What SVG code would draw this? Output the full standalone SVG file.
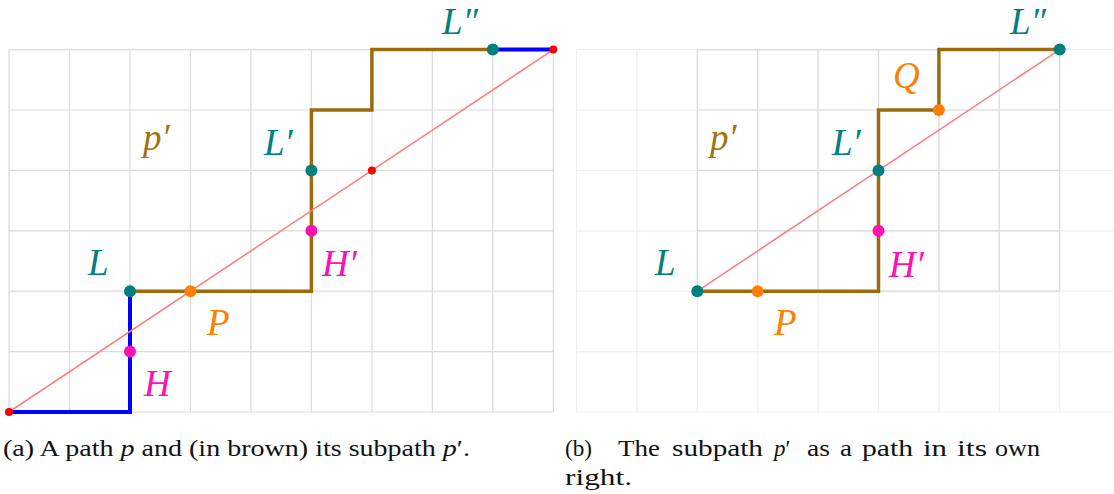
<svg xmlns="http://www.w3.org/2000/svg" width="1114" height="494" viewBox="0 0 1114 494">
<style>
.g{stroke:#dcdcdc;stroke-width:1.2;fill:none}
.gf{stroke:#efefef;stroke-width:1.2;fill:none}
.br{stroke:#9c6b0e;stroke-width:3.5;fill:none;stroke-linejoin:miter}
.bl{stroke:#0000ff;stroke-width:4;fill:none;stroke-linejoin:miter}
.rl{stroke:#ff8080;stroke-width:1.6;fill:none}
.teal{fill:#007f7f}
.mag{fill:#ff10b0}
.org{fill:#ff8000}
.red{fill:#ff0000}
.lab{font-style:italic;font-size:37px}
.cap{font-size:23px;fill:#111}
.pbrown{fill:#a36f10}
</style>
<rect width="1114" height="494" fill="#ffffff"/>
<g id="grid-left">
<path class="g" d="M9,49.6V412M69.5,49.6V412M130,49.6V412M190.4,49.6V412M250.9,49.6V412M311.4,49.6V412M371.9,49.6V412M432.4,49.6V412M492.8,49.6V412M553.3,49.6V412"/>
<path class="g" d="M9,49.6H553.3M9,110H553.3M9,170.4H553.3M9,230.8H553.3M9,291.2H553.3M9,351.6H553.3M9,412H553.3"/>
</g>
<g id="grid-right">
<path class="gf" d="M576.5,49.6V412M636.9,49.6V412M697.3,49.6V412M757.7,49.6V412M818.1,49.6V412M878.5,49.6V412M938.9,49.6V412M999.3,49.6V412M1059.7,49.6V412"/>
<path class="gf" d="M576.5,49.6H1114M576.5,110H1114M576.5,170.4H1114M576.5,230.8H1114M576.5,291.2H1114M576.5,351.6H1114M576.5,412H1114"/>
<path class="g" d="M697.3,49.6V291.2M757.7,49.6V291.2M818.1,49.6V291.2M878.5,49.6V291.2M938.9,49.6V291.2M999.3,49.6V291.2M1059.7,49.6V291.2"/>
<path class="g" d="M697.3,49.6H1059.7M697.3,110H1059.7M697.3,170.4H1059.7M697.3,230.8H1059.7M697.3,291.2H1059.7"/>
</g>
<g id="connectors">
<path class="bl" d="M9,412H130V291.2"/>
<path class="bl" d="M492.8,49.6H553.3"/>
<path class="br" d="M130,291.2H311.4V110H371.9V49.6H492.8"/>
<path class="rl" d="M9,412L553.3,49.6"/>
<path class="br" d="M697.3,291.2H878.5V110H938.9V49.6H1059.7"/>
<path class="rl" d="M697.3,291.2L1059.7,49.6"/>
</g>
<g font-family="Liberation Serif, DejaVu Serif, serif">
<g id="a-start"><circle class="red" cx="9" cy="412" r="4"/></g>
<g id="a-mid"><circle class="red" cx="371.9" cy="170.4" r="4"/></g>
<g id="a-end"><circle class="red" cx="553.3" cy="49.6" r="4"/></g>
<g id="a-L"><circle class="teal" cx="130" cy="291.2" r="6"/><text class="lab teal" x="88" y="275">L</text></g>
<g id="a-H"><circle class="mag" cx="130" cy="351.6" r="6"/><text class="lab mag" x="144" y="396">H</text></g>
<g id="a-P"><circle class="org" cx="190.4" cy="291.2" r="6"/><text class="lab org" x="207" y="335">P</text></g>
<g id="a-Hp"><circle class="mag" cx="311.4" cy="230.8" r="6"/><text class="lab mag" x="322" y="276">H′</text></g>
<g id="a-Lp"><circle class="teal" cx="311.4" cy="170.4" r="6"/><text class="lab teal" x="264" y="155">L′</text></g>
<g id="a-Lpp"><circle class="teal" cx="492.8" cy="49.6" r="6"/><text class="lab teal" x="442" y="34">L″</text></g>
<g id="a-pp"><text class="lab pbrown" x="143" y="150">p′</text></g>
<g id="b-L"><circle class="teal" cx="697.3" cy="291.2" r="6"/><text class="lab teal" x="655" y="275">L</text></g>
<g id="b-P"><circle class="org" cx="757.7" cy="291.2" r="6"/><text class="lab org" x="774" y="335">P</text></g>
<g id="b-Hp"><circle class="mag" cx="878.5" cy="230.8" r="6"/><text class="lab mag" x="889" y="277">H′</text></g>
<g id="b-Lp"><circle class="teal" cx="878.5" cy="170.4" r="6"/><text class="lab teal" x="832" y="155">L′</text></g>
<g id="b-Q"><circle class="org" cx="938.9" cy="110" r="6"/><text class="lab org" x="893" y="88">Q</text></g>
<g id="b-Lpp"><circle class="teal" cx="1059.7" cy="49.6" r="6"/><text class="lab teal" x="1010" y="34">L″</text></g>
<g id="b-pp"><text class="lab pbrown" x="710" y="150">p′</text></g>
<g id="captions">
<text class="cap" x="3" y="456" textLength="467" lengthAdjust="spacingAndGlyphs">(a) A path <tspan font-style="italic">p</tspan> and (in brown) its subpath <tspan font-style="italic">p</tspan>′.</text>
<text class="cap" x="565" y="456" textLength="27" lengthAdjust="spacingAndGlyphs">(b)</text>
<text class="cap" x="618" y="456" textLength="42" lengthAdjust="spacingAndGlyphs">The</text>
<text class="cap" x="672" y="456" textLength="91" lengthAdjust="spacingAndGlyphs">subpath</text>
<text class="cap" x="774" y="456"><tspan font-style="italic">p</tspan>′</text>
<text class="cap" x="807" y="456" textLength="23" lengthAdjust="spacingAndGlyphs">as</text>
<text class="cap" x="840" y="456" textLength="12" lengthAdjust="spacingAndGlyphs">a</text>
<text class="cap" x="862" y="456" textLength="51" lengthAdjust="spacingAndGlyphs">path</text>
<text class="cap" x="923" y="456" textLength="24" lengthAdjust="spacingAndGlyphs">in</text>
<text class="cap" x="957" y="456" textLength="30" lengthAdjust="spacingAndGlyphs">its</text>
<text class="cap" x="995" y="456" textLength="45" lengthAdjust="spacingAndGlyphs">own</text>
<text class="cap" x="565" y="485" textLength="67" lengthAdjust="spacingAndGlyphs">right.</text>
</g>
</g>
</svg>
